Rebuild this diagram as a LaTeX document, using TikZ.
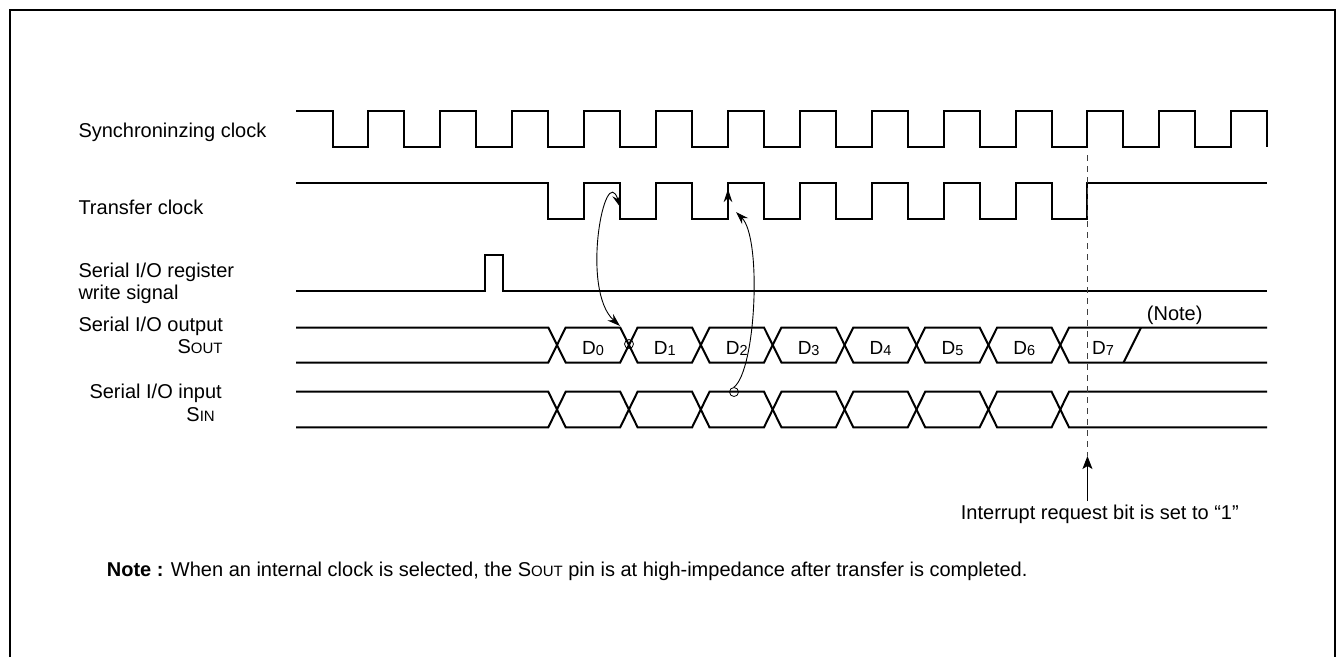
\documentclass[tikz,border=0pt]{standalone}
\usepackage{fontspec}
\setmainfont{Liberation Sans}
\usetikzlibrary{arrows.meta}
\newcommand\dlab[1]{{\fontsize{19}{22}\selectfont D\raisebox{-1pt}{\fontsize{14.5}{17}\selectfont #1}}}
\begin{document}
\begin{tikzpicture}[x=1pt,y=-1pt,
  sig/.style={line width=2pt, line join=miter},
  thinline/.style={line width=0.9pt},
  tip/.style={-{Stealth[length=13pt,width=8.5pt]}},
  lbl/.style={anchor=base west, inner sep=0pt, font=\fontsize{20}{24}\selectfont},
  lble/.style={anchor=base east, inner sep=0pt, font=\fontsize{20}{24}\selectfont},
  dl/.style={anchor=base, inner sep=0pt},
  mark circle/.style={circle, draw, line width=0.8pt, minimum size=9pt, inner sep=0pt}]
\useasboundingbox (0,0) rectangle (1340,657);
\fill[white] (0,0) rectangle (1340,657);
% frame
\draw[line width=2pt] (9.5,657) -- (9.5,10) -- (1335,10) -- (1335,657);

% labels
\node[lbl] (l1) at (78.3,137.3) {Synchroninzing clock};
\node[lbl] (l2) at (78.3,214) {Transfer clock};
\node[lbl] (l3) at (78.3,277.3) {Serial I/O register};
\node[lbl] (l3b) at (78.3,299.3) {write signal};
\node[lbl] (l4) at (78.3,331.7) {Serial I/O output};
\node[lble] (l4b) at (222.7,353.3) {S{\fontsize{15}{18}\selectfont OUT}};
\node[lbl] (l5) at (89.3,398.3) {Serial I/O input};
\node[lble] (l5b) at (215,421.7) {S{\fontsize{15}{18}\selectfont IN}};

% synchronizing clock
\draw[sig] (296,111) \foreach \k in {0,...,12}{ -- ({332.5+71.9*\k},111) -- ({332.5+71.9*\k},147) -- ({368.45+71.9*\k},147) -- ({368.45+71.9*\k},111) } -- (1267.2,111) -- (1267.2,147);

% transfer clock
\draw[sig] (296,183.3) \foreach \j in {0,...,7}{ -- ({548.2+71.9*\j},183.3) -- ({548.2+71.9*\j},219.3) -- ({584.15+71.9*\j},219.3) -- ({584.15+71.9*\j},183.3) } -- (1267.2,183.3);

% write signal
\draw[sig] (296,291) -- (485,291) -- (485,255) -- (503,255) -- (503,291) -- (1267.2,291);

% SOUT bus
\draw[sig] (296,327.5) \foreach \k in {0,2,4,6}{ -- ({557+71.9*\k-8.7},327.5) -- ({557+71.9*\k+8.7},362.5) -- ({557+71.9*(\k+1)-8.7},362.5) -- ({557+71.9*(\k+1)+8.7},327.5) } -- (1267.2,327.5);
\draw[sig] (296,362.5) \foreach \k in {0,2,4,6}{ -- ({557+71.9*\k-8.7},362.5) -- ({557+71.9*\k+8.7},327.5) -- ({557+71.9*(\k+1)-8.7},327.5) -- ({557+71.9*(\k+1)+8.7},362.5) } -- (1267.2,362.5);
\draw[sig] (1123.5,362.5) -- (1141,327.5);

% SIN bus
\draw[sig] (296,391.7) \foreach \k in {0,2,4,6}{ -- ({557+71.9*\k-8.7},391.7) -- ({557+71.9*\k+8.7},427.3) -- ({557+71.9*(\k+1)-8.7},427.3) -- ({557+71.9*(\k+1)+8.7},391.7) } -- (1267.2,391.7);
\draw[sig] (296,427.3) \foreach \k in {0,2,4,6}{ -- ({557+71.9*\k-8.7},427.3) -- ({557+71.9*\k+8.7},391.7) -- ({557+71.9*(\k+1)-8.7},391.7) -- ({557+71.9*(\k+1)+8.7},427.3) } -- (1267.2,427.3);

% data labels
\foreach \k in {0,...,6}{ \node[dl] (d\k) at ({592.95+71.9*\k},354) {\dlab{\k}}; }
\node[dl] (d7) at (1103,354) {\dlab{7}};
\node[lbl] (note1) at (1146.7,320) {(Note)};

% marks and arrows
\node[mark circle] (m1) at (629,344) {};
\node[mark circle] (m2) at (734,392) {};
\coordinate (tfall) at (620.5,207.5);
\coordinate (d0x) at (620,326);
\coordinate (trise) at (736,212);
\coordinate (ebase) at (728,207);
\coordinate (etip) at (728,189);
\draw[thinline, {Stealth[length=13pt,width=8.5pt]}-{Stealth[length=13pt,width=8.5pt]}] (tfall) .. controls (605,160) and (580,290) .. (d0x);
\draw[thinline, tip] (m2.north) .. controls (756,370) and (762,238) .. (trise);
\draw[thinline, tip] (ebase) -- (etip);

% dashed marker and interrupt label
\coordinate (dtop) at (1087.45,155);
\coordinate (dbot) at (1087.45,456);
\draw[black!75, line width=0.9pt, dash pattern=on 6pt off 5pt] (dtop) -- (dbot);
\node[lbl] (irq) at (960.7,519.3) {Interrupt request bit is set to “1”};
\coordinate (irqfoot) at (1087.45,501);
\draw[thinline, -{Stealth[length=13pt,width=10pt,inset=3pt]}] (irqfoot) -- (dbot);

% note
\node[anchor=base west, inner sep=0pt, font=\fontsize{20}{24}\selectfont] (note) at (106.7,576.7) {\textbf{Note :} When an internal clock is selected, the S{\fontsize{15}{18}\selectfont OUT} pin is at high-impedance after transfer is completed.};
\end{tikzpicture}
\end{document}
